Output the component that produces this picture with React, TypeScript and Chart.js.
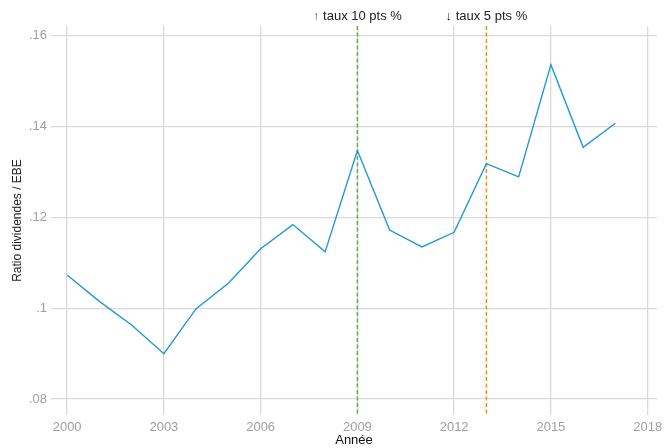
import React, { useEffect, useRef } from "react";
import { Chart, registerables } from "chart.js";

Chart.register(...registerables);

const years = [2000, 2001, 2002, 2003, 2004, 2005, 2006, 2007, 2008, 2009, 2010, 2011, 2012, 2013, 2014, 2015, 2016, 2017];
const ratios = [0.1073, 0.1015, 0.0963, 0.0900, 0.0999, 0.1055, 0.1131, 0.1184, 0.1124, 0.1347, 0.1172, 0.1135, 0.1167, 0.1318, 0.1289, 0.1536, 0.1354, 0.1407];

const xTicks = [2000, 2003, 2006, 2009, 2012, 2015, 2018];
const yTicks = [0.08, 0.1, 0.12, 0.14, 0.16];
const yTickLabels = [".08", ".1", ".12", ".14", ".16"];

const eventYears = [2009, 2013];
const eventArrows = ["↑", "↓"];
const eventTexts = [" taux 10 pts %", " taux 5 pts %"];
const eventColors = ["#6cae3e", "#ff8a12"];
const arrowColors = ["#7a5232", "#222222"];

const FONT = "'Liberation Sans', Arial, Helvetica, sans-serif";

export default function App() {
  const ref = useRef<HTMLCanvasElement | null>(null);

  useEffect(() => {
    document.body.style.margin = "0";
    const canvas = ref.current;
    if (!canvas) return;

    const eventPlugin = {
      id: "events",
      beforeDatasetsDraw(chart: any) {
        const { ctx, chartArea, scales } = chart;
        ctx.save();
        ctx.lineWidth = 1.5;
        ctx.setLineDash([4, 2.5]);
        eventYears.forEach((yr, i) => {
          const x = scales.x.getPixelForValue(yr);
          ctx.strokeStyle = eventColors[i];
          ctx.beginPath();
          ctx.moveTo(x, chartArea.top);
          ctx.lineTo(x, chartArea.bottom);
          ctx.stroke();
        });
        ctx.restore();
      },
      afterDraw(chart: any) {
        const { ctx, scales } = chart;
        ctx.save();
        ctx.font = `13px ${FONT}`;
        ctx.textBaseline = "middle";
        eventYears.forEach((yr, i) => {
          const x = scales.x.getPixelForValue(yr);
          const wA = ctx.measureText(eventArrows[i]).width;
          const wT = ctx.measureText(eventTexts[i]).width;
          const start = x - (wA + wT) / 2;
          ctx.textAlign = "left";
          ctx.fillStyle = arrowColors[i];
          ctx.fillText(eventArrows[i], start, 16);
          ctx.fillStyle = "#222222";
          ctx.fillText(eventTexts[i], start + wA, 16);
        });
        ctx.restore();
      },
    };

    const chart = new Chart(canvas, {
      type: "line",
      data: {
        datasets: [
          {
            data: years.map((y, i) => ({ x: y, y: ratios[i] })),
            borderColor: "#1f98d8",
            borderWidth: 1.4,
            pointRadius: 0,
            tension: 0,
            fill: false,
          },
        ],
      },
      options: {
        animation: false,
        responsive: false,
        maintainAspectRatio: false,
        layout: { padding: { top: 26, right: 7, left: 0, bottom: 0 } },
        plugins: { legend: { display: false }, tooltip: { enabled: false } },
        scales: {
          x: {
            type: "linear",
            min: 1999.5,
            max: 2018.29,
            afterBuildTicks: (scale: any) => {
              scale.ticks = xTicks.map((v) => ({ value: v }));
            },
            afterFit: (scale: any) => {
              scale.height = 33;
              scale.paddingLeft = 0;
              scale.paddingRight = 0;
            },
            border: { display: false },
            grid: { color: "#dadada", lineWidth: 1.3, drawTicks: false },
            ticks: {
              padding: 5,
              color: "#a0a0a0",
              font: { family: FONT, size: 13 },
              maxRotation: 0,
              autoSkip: false,
              callback: (v: any) => String(v),
            },
            title: {
              display: true,
              text: "Année",
              color: "#111111",
              font: { family: FONT, size: 13 },
              padding: { top: 0, bottom: 0 },
            },
          },
          y: {
            type: "linear",
            min: 0.0765,
            max: 0.1621,
            afterBuildTicks: (scale: any) => {
              scale.ticks = yTicks.map((v) => ({ value: v }));
            },
            afterFit: (scale: any) => {
              scale.width = 51;
              scale.paddingTop = 0;
              scale.paddingBottom = 0;
            },
            border: { display: false },
            grid: { color: "#dadada", lineWidth: 1.3, drawTicks: false },
            ticks: {
              padding: 4,
              color: "#a0a0a0",
              font: { family: FONT, size: 13 },
              autoSkip: false,
              callback: (v: any) => {
                const idx = yTicks.findIndex((t) => Math.abs(t - Number(v)) < 1e-6);
                return idx >= 0 ? yTickLabels[idx] : "";
              },
            },
            title: {
              display: true,
              text: "Ratio dividendes / EBE",
              color: "#222222",
              font: { family: FONT, size: 12 },
              padding: { top: 10, bottom: 0 },
            },
          },
        },
      },
      plugins: [eventPlugin],
    });

    return () => chart.destroy();
  }, []);

  return (
    <div style={{ width: 664, height: 448, position: "relative" }}>
      <canvas ref={ref} width={664} height={448} style={{ display: "block" }} />
    </div>
  );
}
